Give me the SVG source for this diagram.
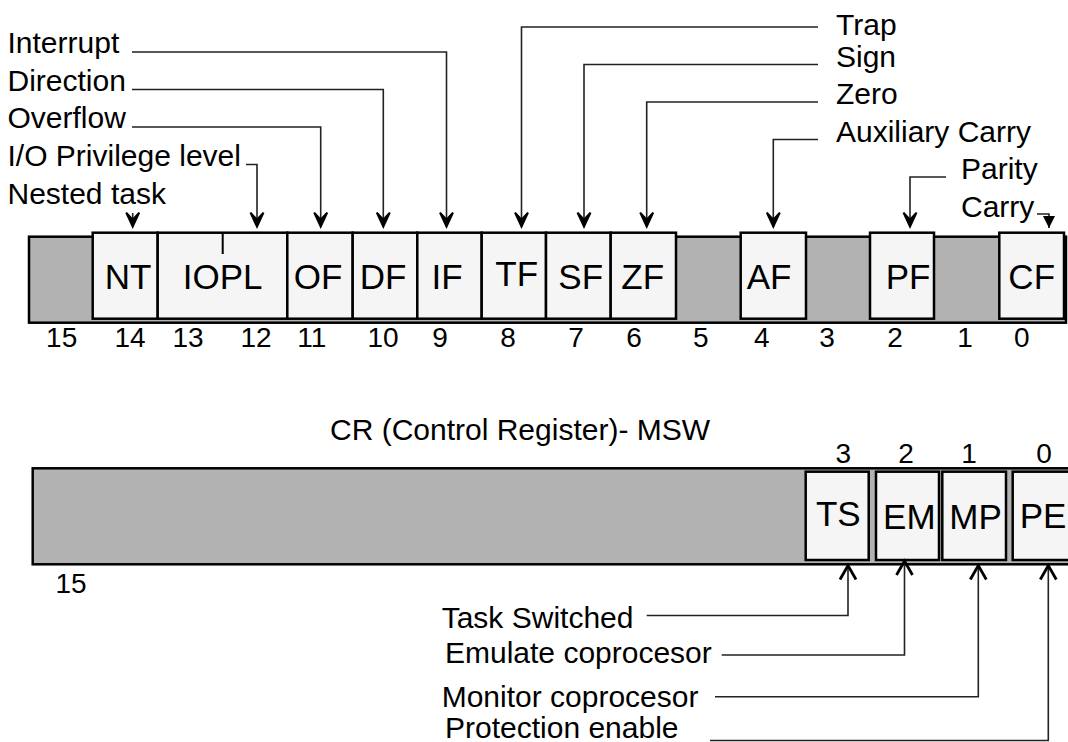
<svg xmlns="http://www.w3.org/2000/svg" width="1068" height="742" viewBox="0 0 1068 742">
<style>
  text { font-family: "Liberation Sans", Arial, sans-serif; fill: #000; }
  .lbl { font-size: 30px; }
  .box { font-size: 35px; text-anchor: middle; }
  .num { font-size: 28px; text-anchor: middle; }
  .frame { fill: #b2b2b2; stroke: #000; stroke-width: 2.5; }
  .cell { fill: #f5f5f5; stroke: #000; stroke-width: 2.5; }
  .conn { fill: none; stroke: #222; stroke-width: 1.6; }
</style>
<defs>
  <marker id="down" markerUnits="userSpaceOnUse" markerWidth="16" markerHeight="18" refX="8" refY="15" orient="0" overflow="visible">
    <path d="M8,15 L1.5,1 L8,8 L14.5,1 Z" fill="#000" stroke="#000" stroke-width="2" stroke-linejoin="miter"/>
  </marker>
  <marker id="tri" markerUnits="userSpaceOnUse" markerWidth="16" markerHeight="16" refX="7" refY="14" orient="0" overflow="visible">
    <path d="M7,14 L1,2 L13,2 Z" fill="#000"/>
  </marker>
  <marker id="up" markerUnits="userSpaceOnUse" markerWidth="20" markerHeight="20" refX="10" refY="2" orient="0" overflow="visible">
    <path d="M2,16 L10,2 L18,16" fill="none" stroke="#000" stroke-width="2.8"/>
  </marker>
</defs>

<!-- FLAGS register -->
<g id="flags-frame">
  <rect class="frame" x="29" y="236.7" width="1037" height="86"/>
</g>
<g id="node-NT"><rect class="cell" x="92.7" y="232.7" width="65" height="86"/><text class="box" x="128" y="289.3">NT</text></g>
<g id="node-IOPL"><rect class="cell" x="157.7" y="232.7" width="129.6" height="86"/><line x1="222.7" y1="232.7" x2="222.7" y2="254" stroke="#000" stroke-width="2"/><text class="box" x="222.7" y="289.3">IOPL</text></g>
<g id="node-OF"><rect class="cell" x="287.3" y="232.7" width="65.4" height="86"/><text class="box" x="318" y="289.3">OF</text></g>
<g id="node-DF"><rect class="cell" x="352.7" y="232.7" width="64.6" height="86"/><text class="box" x="383" y="289.3">DF</text></g>
<g id="node-IF"><rect class="cell" x="417.3" y="232.7" width="64.4" height="86"/><text class="box" x="447" y="289.3">IF</text></g>
<g id="node-TF"><rect class="cell" x="481.7" y="232.7" width="64.3" height="86"/><text class="box" x="516.7" y="286">TF</text></g>
<g id="node-SF"><rect class="cell" x="546" y="232.7" width="64.7" height="86"/><text class="box" x="580.7" y="289.3">SF</text></g>
<g id="node-ZF"><rect class="cell" x="610.7" y="232.7" width="65.3" height="86"/><text class="box" x="642.7" y="289.3">ZF</text></g>
<g id="node-AF"><rect class="cell" x="740.7" y="232.7" width="65.3" height="86"/><text class="box" x="769" y="289.3">AF</text></g>
<g id="node-PF"><rect class="cell" x="870" y="232.7" width="64" height="86"/><text class="box" x="908" y="289.3">PF</text></g>
<g id="node-CF"><rect class="cell" x="999.3" y="232.7" width="64.7" height="86"/><text class="box" x="1031.7" y="289.3">CF</text></g>

<g id="flags-bits">
  <text class="num" x="61.7" y="347">15</text>
  <text class="num" x="130" y="347">14</text>
  <text class="num" x="188" y="347">13</text>
  <text class="num" x="256" y="347">12</text>
  <text class="num" x="311.7" y="347">11</text>
  <text class="num" x="383" y="347">10</text>
  <text class="num" x="440" y="347">9</text>
  <text class="num" x="508" y="347">8</text>
  <text class="num" x="576" y="347">7</text>
  <text class="num" x="634" y="347">6</text>
  <text class="num" x="700.7" y="347">5</text>
  <text class="num" x="761.7" y="347">4</text>
  <text class="num" x="827" y="347">3</text>
  <text class="num" x="895" y="347">2</text>
  <text class="num" x="965" y="347">1</text>
  <text class="num" x="1021.7" y="347">0</text>
</g>

<g id="flag-labels">
  <text class="lbl" x="7.5" y="53">Interrupt</text>
  <text class="lbl" x="7.5" y="90.5">Direction</text>
  <text class="lbl" x="7.5" y="128">Overflow</text>
  <text class="lbl" x="7.5" y="165.5">I/O Privilege level</text>
  <text class="lbl" x="7.5" y="203.5">Nested task</text>
  <text class="lbl" x="836" y="35">Trap</text>
  <text class="lbl" x="836" y="67">Sign</text>
  <text class="lbl" x="836" y="104">Zero</text>
  <text class="lbl" x="836" y="141.5">Auxiliary Carry</text>
  <text class="lbl" x="961" y="179">Parity</text>
  <text class="lbl" x="961" y="216.5">Carry</text>
</g>

<!-- MSW register -->
<g id="msw-title"><text class="lbl" x="330" y="440">CR (Control Register)- MSW</text></g>
<g id="msw-frame"><rect class="frame" x="32.7" y="468.3" width="1045" height="96"/></g>
<g id="node-TS"><rect class="cell" x="805.7" y="471.7" width="63" height="88.3"/><text class="box" x="838.3" y="526">TS</text></g>
<g id="node-EM"><rect class="cell" x="876" y="471.7" width="63" height="88.3"/><text class="box" x="909.3" y="529.3">EM</text></g>
<g id="node-MP"><rect class="cell" x="942.3" y="471.7" width="63.7" height="88.3"/><text class="box" x="975.5" y="529.3">MP</text></g>
<g id="node-PE"><rect class="cell" x="1012.7" y="471.7" width="70" height="88.3"/><text class="box" x="1043" y="528.3">PE</text></g>
<g id="msw-bits">
  <text class="num" x="71" y="593.3">15</text>
  <text class="num" x="843.3" y="462.7">3</text>
  <text class="num" x="906" y="462.7">2</text>
  <text class="num" x="969" y="462.7">1</text>
  <text class="num" x="1044" y="462.7">0</text>
</g>
<g id="msw-labels">
  <text class="lbl" x="441.7" y="628.3">Task Switched</text>
  <text class="lbl" x="445" y="662.7">Emulate coprocesor</text>
  <text class="lbl" x="441.7" y="706.7">Monitor coprocesor</text>
  <text class="lbl" x="445" y="738">Protection enable</text>
</g>

<g id="connectors">
  <polyline class="conn" points="132.7,213 132.7,226.7" marker-end="url(#down)"/>
  <polyline class="conn" points="246,164.5 257,164.5 257,226.7" marker-end="url(#down)"/>
  <polyline class="conn" points="132,127 320.7,127 320.7,226.7" marker-end="url(#down)"/>
  <polyline class="conn" points="132,89.5 383.3,89.5 383.3,226.7" marker-end="url(#down)"/>
  <polyline class="conn" points="132,52 446.5,52 446.5,226.7" marker-end="url(#down)"/>
  <polyline class="conn" points="818,27 521.5,27 521.5,226.7" marker-end="url(#down)"/>
  <polyline class="conn" points="818,64.5 584,64.5 584,226.7" marker-end="url(#down)"/>
  <polyline class="conn" points="818,102 646.7,102 646.7,226.7" marker-end="url(#down)"/>
  <polyline class="conn" points="818,139.5 773.3,139.5 773.3,226.7" marker-end="url(#down)"/>
  <polyline class="conn" points="946,177 910,177 910,226.7" marker-end="url(#down)"/>
  <polyline class="conn" points="1037,214 1049,214 1049,228" marker-end="url(#tri)"/>

  <polyline class="conn" points="646.7,615.5 848,615.5 848,565.5" marker-end="url(#up)"/>
  <polyline class="conn" points="721.7,655 904.5,655 904.5,561" marker-end="url(#up)"/>
  <polyline class="conn" points="715,696.7 978.3,696.7 978.3,565.5" marker-end="url(#up)"/>
  <polyline class="conn" points="710,740.5 1048.3,740.5 1048.3,565.5" marker-end="url(#up)"/>
</g>
</svg>
